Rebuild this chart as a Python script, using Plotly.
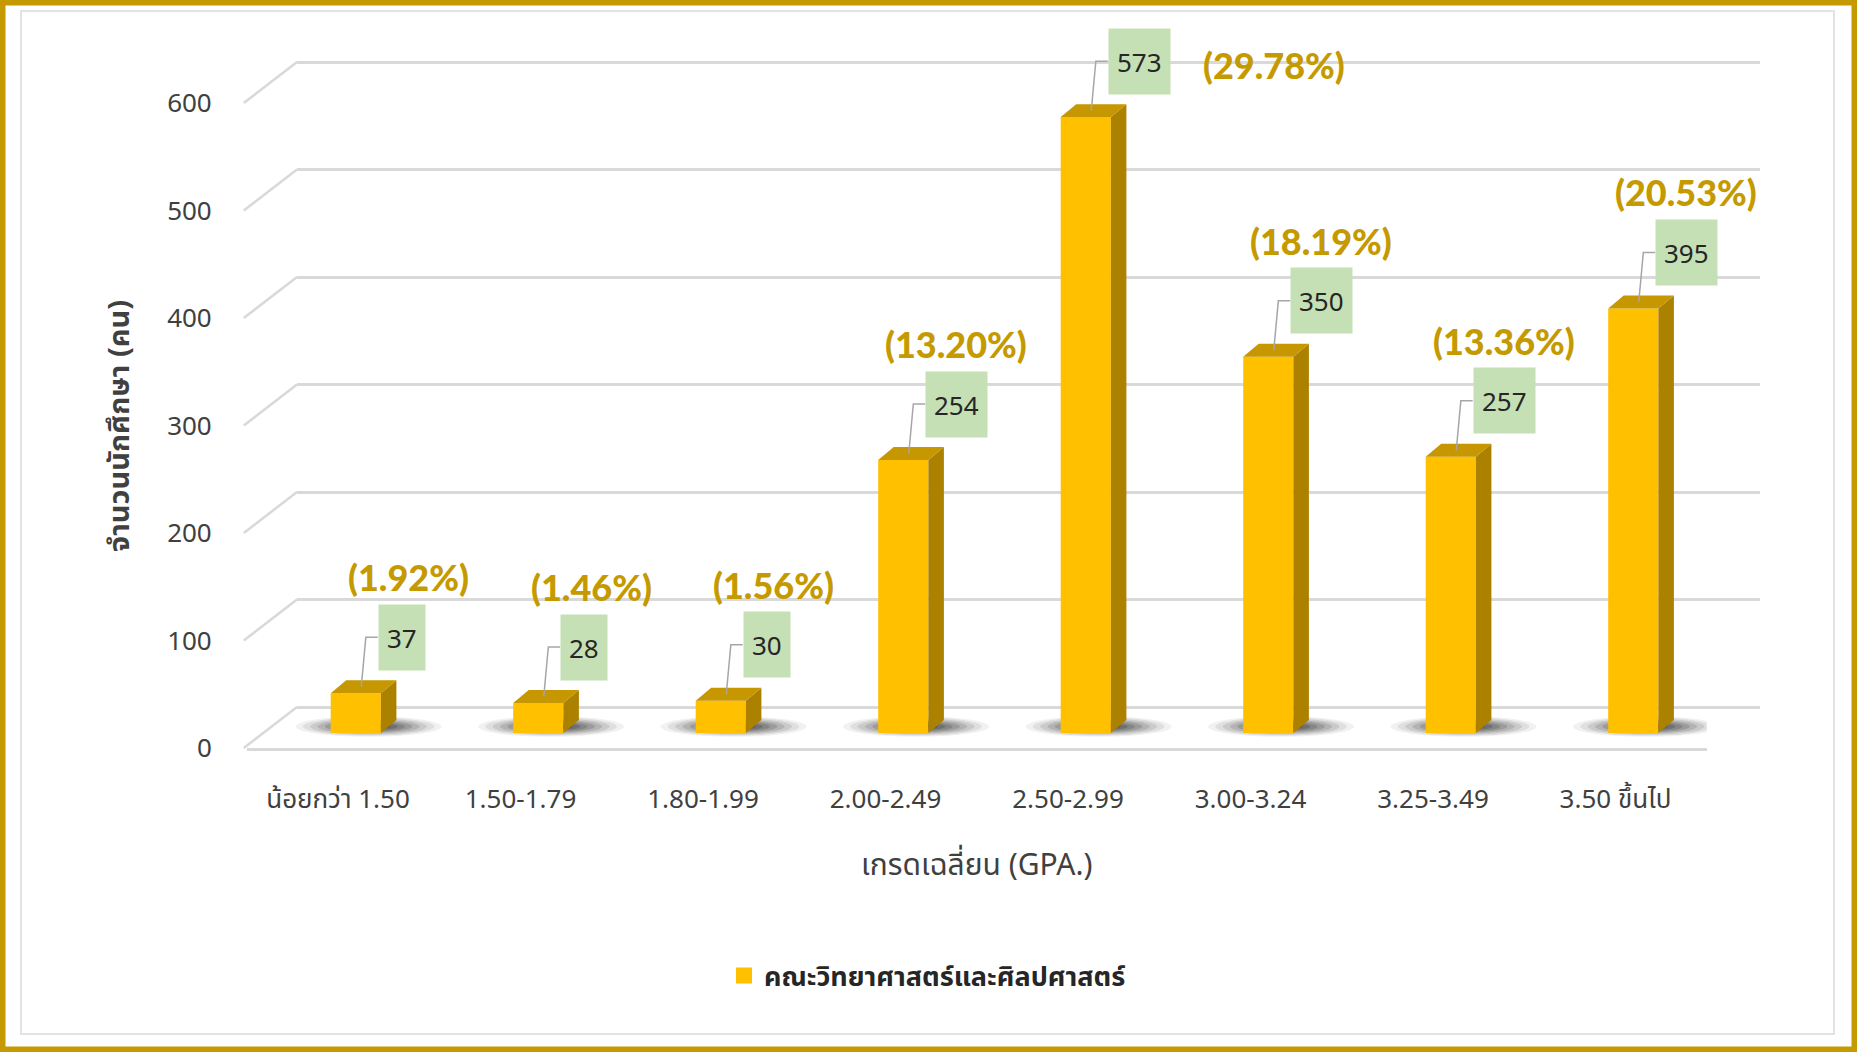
import plotly.graph_objects as go

# ---------------- data ----------------
categories = ["น้อยกว่า 1.50", "1.50-1.79", "1.80-1.99", "2.00-2.49",
              "2.50-2.99", "3.00-3.24", "3.25-3.49", "3.50 ขึ้นไป"]
counts = [37, 28, 30, 254, 573, 350, 257, 395]
percent_labels = ["(1.92%)", "(1.46%)", "(1.56%)", "(13.20%)",
                  "(29.78%)", "(18.19%)", "(13.36%)", "(20.53%)"]
y_ticks = [0, 100, 200, 300, 400, 500, 600]
series_name = "คณะวิทยาศาสตร์และศิลปศาสตร์"
x_title = "เกรดเฉลี่ยน (GPA.)"
y_title = "จำนวนนักศึกษา (คน)"

# ---------------- styling / geometry ----------------
W, H = 1857, 1052
GOLD = "#C49A00"
BAR_FRONT = "#FFC000"
BAR_SIDE = "#AD8100"
BAR_TOP = "#C69700"
GRID = "#D9D9D9"
TXT = "#404040"
BOX = "#C5E0B4"
FONT = "Noto Sans, Noto Sans Thai, Tahoma, DejaVu Sans, sans-serif"
PCT_FONT = "Lato, Noto Sans, sans-serif"


def px(x):
    return x / W


def py(y):
    return 1 - y / H


FRONT_L, FRONT_R = 246.75, 1706.75
FRONT_BOTTOM, FRONT_TOP = 748.0, 38.5
Y_MAX = 660
SCALE = (FRONT_BOTTOM - FRONT_TOP) / Y_MAX          # px per unit
BACK_L, BACK_R = 297.0, 1760.0
BACK_ZERO = 707.0
BACK_MIN, BACK_MAX = -1, 640
BAR_SHIFT = (FRONT_BOTTOM - 733.0) / SCALE          # bar plane depth in units

OFF, WID = -0.04, 0.275      # front face
SIDE_W = 0.085               # side face width (x units)
DEPTH = 12                   # top face depth (y units)
BOX_DY = 52                  # label box height above bar
PCT_DY = 56                  # percent label above the box

idx = list(range(len(categories)))
fig = go.Figure()

# back wall (grid) subplot: x / y
fig.add_trace(go.Scatter(x=[0.5], y=[0], xaxis="x", yaxis="y", mode="markers",
                         marker=dict(size=1, color="rgba(0,0,0,0)"),
                         hoverinfo="skip", showlegend=False))
# front subplot x2 / y2 (axis labels)
fig.add_trace(go.Scatter(x=[0], y=[0], xaxis="x2", yaxis="y2", mode="markers",
                         marker=dict(size=1, color="rgba(0,0,0,0)"),
                         hoverinfo="skip", showlegend=False))

# side faces and top faces built from the values
side_x, side_y, top_x, top_y = [], [], [], []
for i, v in zip(idx, counts):
    xr = i + OFF + WID
    side_x += [xr, xr, xr + SIDE_W, xr + SIDE_W, xr, None]
    side_y += [0, v, v + DEPTH, DEPTH, 0, None]
    xl = i + OFF
    top_x += [xl, xr, xr + SIDE_W, xl + SIDE_W, xl, None]
    top_y += [v, v, v + DEPTH, v + DEPTH, v, None]

fig.add_trace(go.Scatter(x=side_x, y=side_y, xaxis="x2", yaxis="y3", mode="lines",
                         fill="toself", fillcolor=BAR_SIDE, line=dict(width=0),
                         hoverinfo="skip", showlegend=False))
fig.add_trace(go.Bar(x=idx, y=counts, xaxis="x2", yaxis="y3", width=WID, offset=OFF,
                     marker=dict(color=BAR_FRONT, line=dict(width=0)),
                     name=series_name, showlegend=False))
fig.add_trace(go.Scatter(x=top_x, y=top_y, xaxis="x2", yaxis="y3", mode="lines",
                         fill="toself", fillcolor=BAR_TOP, line=dict(width=0),
                         hoverinfo="skip", showlegend=False))

# leader lines
lx, ly = [], []
for i, v in zip(idx, counts):
    c = i + OFF + WID / 2
    lx += [c + 0.03, c + 0.055, c + 0.12, None]
    ly += [v + DEPTH / 2, v + BOX_DY, v + BOX_DY, None]
fig.add_trace(go.Scatter(x=lx, y=ly, xaxis="x2", yaxis="y3", mode="lines",
                         line=dict(color="#A6A6A6", width=1.5),
                         hoverinfo="skip", showlegend=False))

# legend entry
fig.add_trace(go.Scatter(x=[None], y=[None], xaxis="x2", yaxis="y3", mode="markers",
                         marker=dict(symbol="square", size=16, color=BAR_FRONT),
                         name=series_name, showlegend=True))

annotations = []
top_limit = Y_MAX - BAR_SHIFT - 10
for i, v, p in zip(idx, counts, percent_labels):
    c = i + OFF + WID / 2
    annotations.append(dict(x=c + 0.12, y=v + BOX_DY, xref="x2", yref="y3",
                            text=str(v), showarrow=False, xanchor="left", yanchor="middle",
                            bgcolor=BOX, borderpad=8, height=49,
                            font=dict(family=FONT, size=26, color="#262626")))
    if v + BOX_DY + PCT_DY > top_limit:
        annotations.append(dict(x=c + 0.63, y=v + BOX_DY - 4, xref="x2", yref="y3",
                                text=p, showarrow=False, xanchor="left", yanchor="middle",
                                font=dict(family=PCT_FONT, size=36, color=GOLD,
                                          weight=900)))
    else:
        annotations.append(dict(x=c + 0.29, y=v + BOX_DY + PCT_DY, xref="x2", yref="y3",
                                text=p, showarrow=False, xanchor="center", yanchor="middle",
                                font=dict(family=PCT_FONT, size=36, color=GOLD,
                                          weight=900)))

annotations.append(dict(x=px(118), y=py(426), xref="paper", yref="paper", text=y_title,
                        textangle=-90, showarrow=False, xanchor="center", yanchor="middle",
                        font=dict(family=FONT, size=29, color=TXT, weight="bold")))
annotations.append(dict(x=px(976), y=py(863), xref="paper", yref="paper", text=x_title,
                        showarrow=False, xanchor="center", yanchor="middle",
                        font=dict(family=FONT, size=30, color=TXT)))

shapes = []
# outer gold frame and inner panel
shapes.append(dict(type="rect", xref="paper", yref="paper", x0=0, y0=0, x1=1, y1=1,
                   line=dict(color=GOLD, width=11), layer="above"))
shapes.append(dict(type="rect", xref="paper", yref="paper", x0=px(21), y0=py(1034),
                   x1=px(1834), y1=py(11), line=dict(color="#E3E3E3", width=2), layer="below"))
# left diagonals connecting front labels to back wall
for v in y_ticks:
    shapes.append(dict(type="line", xref="paper", yref="paper",
                       x0=px(FRONT_L - 3), y0=py(FRONT_BOTTOM - v * SCALE),
                       x1=px(BACK_L), y1=py(BACK_ZERO - v * SCALE),
                       line=dict(color=GRID, width=2.5), layer="below"))
# soft shadows under the bars (stacked translucent ellipses)
shadow_layers = [(0.40, 9.5, 0.06), (0.36, 8.5, 0.08), (0.32, 7.5, 0.10),
                 (0.28, 6.5, 0.12), (0.24, 5.5, 0.14), (0.20, 4.5, 0.16),
                 (0.16, 3.5, 0.18), (0.12, 2.5, 0.2)]
for i in idx:
    c = i + OFF + WID / 2 + 0.07
    for hw, hh, op in shadow_layers:
        shapes.append(dict(type="circle", xref="x2", yref="y3",
                           x0=c - hw, x1=c + hw, y0=6 - hh, y1=6 + hh,
                           fillcolor="#111111", opacity=op, line=dict(width=0),
                           layer="below"))

fig.update_layout(
    width=W, height=H, autosize=False,
    margin=dict(l=0, r=0, t=0, b=0, pad=0, autoexpand=False),
    paper_bgcolor="white", plot_bgcolor="rgba(0,0,0,0)",
    font=dict(family=FONT, color=TXT),
    showlegend=True,
    legend=dict(orientation="h", x=px(724), y=py(976), xanchor="left", yanchor="middle",
                font=dict(family=FONT, size=27, color="#262626", weight="bold"),
                bgcolor="rgba(0,0,0,0)"),
    xaxis=dict(domain=[px(BACK_L), px(BACK_R)], range=[0, 1], visible=False, anchor="y",
               automargin=False),
    yaxis=dict(domain=[py(BACK_ZERO - BACK_MIN * SCALE), py(BACK_ZERO - BACK_MAX * SCALE)],
               range=[BACK_MIN, BACK_MAX], anchor="x", tickvals=y_ticks,
               showticklabels=False, showgrid=True, gridcolor=GRID, gridwidth=2.5,
               zeroline=True, zerolinecolor=GRID, zerolinewidth=2.5, showline=False,
               ticks="", automargin=False),
    xaxis2=dict(domain=[px(FRONT_L), px(FRONT_R)], range=[-0.5, len(categories) - 0.5],
                anchor="y2", tickvals=idx, ticktext=categories, showgrid=False,
                zeroline=False, showline=True, linecolor=GRID, linewidth=2.5, ticks="",
                ticklabelstandoff=26, automargin=False,
                tickfont=dict(family=FONT, size=26, color=TXT)),
    yaxis2=dict(domain=[py(FRONT_BOTTOM), py(FRONT_TOP)], range=[0, Y_MAX], anchor="x2",
                tickvals=y_ticks, showgrid=False, zeroline=False, showline=False, ticks="",
                ticklabelstandoff=34, automargin=False,
                tickfont=dict(family=FONT, size=26, color=TXT)),
    yaxis3=dict(overlaying="y2", anchor="x2", range=[-BAR_SHIFT, Y_MAX - BAR_SHIFT],
                visible=False, automargin=False),
    annotations=annotations,
    shapes=shapes,
)

fig.write_html("out.html", config={"displayModeBar": False},
               post_script="document.body.style.margin='0';document.body.style.overflow='hidden';")
